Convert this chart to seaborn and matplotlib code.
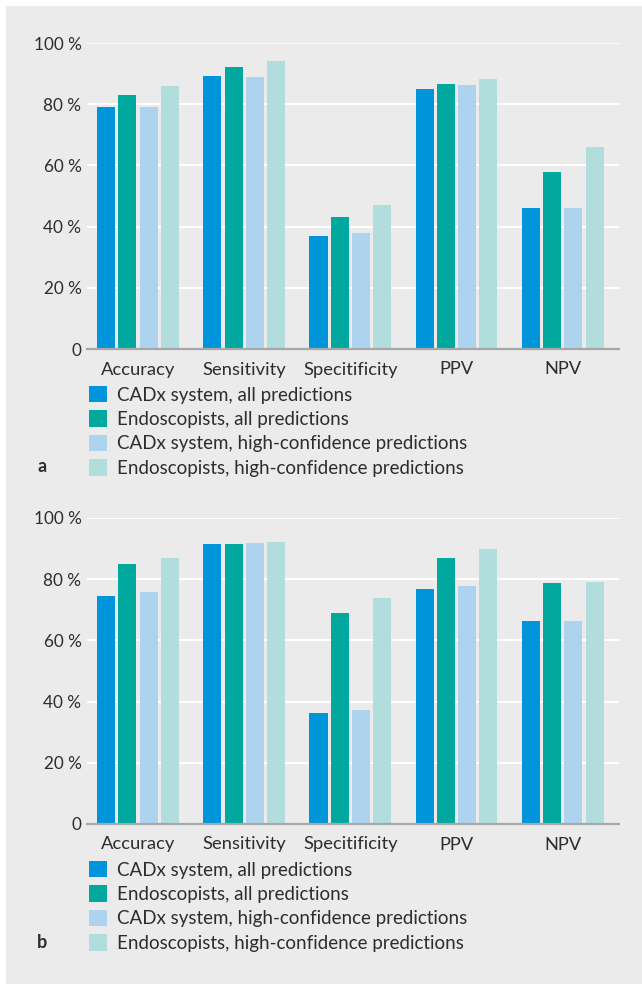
import matplotlib
matplotlib.use("Agg")
import matplotlib.pyplot as plt
import matplotlib.patches as mpatches
import seaborn as sns
import pandas as pd

# data
metrics = ["Accuracy", "Sensitivity", "Specitificity", "PPV", "NPV"]
series = [
    "CADx system, all predictions",
    "Endoscopists, all predictions",
    "CADx system, high-confidence predictions",
    "Endoscopists, high-confidence predictions",
]
colors = ["#0094da", "#00a89e", "#aed3ee", "#b1dedd"]

# panel a
a_cadx_all = [79.2, 89.3, 37.0, 85.0, 46.1]
a_endo_all = [83.1, 92.3, 43.2, 86.7, 57.9]
a_cadx_hc = [79.2, 89.0, 38.0, 86.4, 46.1]
a_endo_hc = [86.0, 94.2, 47.0, 88.3, 66.1]

# panel b
b_cadx_all = [74.4, 91.5, 36.4, 76.7, 66.5]
b_endo_all = [84.9, 91.5, 68.9, 86.9, 78.7]
b_cadx_hc = [75.7, 91.8, 37.1, 77.7, 66.5]
b_endo_hc = [86.9, 92.1, 73.8, 89.8, 79.0]

yticks = [0, 20, 40, 60, 80, 100]
ytick_labels = ["0", "20 %", "40 %", "60 %", "80 %", "100 %"]

BG = "#eaebea"
TXT = "#2d2d2d"


def to_long(vals):
    rows = []
    for s, v in zip(series, vals):
        for m, x in zip(metrics, v):
            rows.append({"metric": m, "series": s, "value": x})
    return pd.DataFrame(rows)


sns.set_theme(style="white")
plt.rcParams["font.family"] = ["Lato", "DejaVu Sans"]

fig = plt.figure(figsize=(6.42, 9.84), dpi=100)
fig.patch.set_facecolor("white")
fig.patches.append(mpatches.Rectangle((6 / 642, 0), 1, 1 - 6 / 984,
                                      transform=fig.transFigure,
                                      facecolor=BG, edgecolor="none", zorder=-10))

panels = [
    ("a", [a_cadx_all, a_endo_all, a_cadx_hc, a_endo_hc], 349),
    ("b", [b_cadx_all, b_endo_all, b_cadx_hc, b_endo_hc], 824),
]

for letter, vals, y0 in panels:
    df = to_long(vals)
    ax = fig.add_axes([87 / 642, (984 - y0) / 984, 532 / 642, 306 / 984])
    ax.set_facecolor("none")
    sns.barplot(data=df, x="metric", y="value", hue="series", order=metrics,
                hue_order=series, palette=colors, width=0.8, gap=0.15,
                linewidth=0, saturation=1, ax=ax, legend=False)
    ax.set_xlim(-0.48, 4.53)
    ax.set_ylim(0, 100)
    ax.set_yticks(yticks)
    ax.set_yticklabels(ytick_labels)
    ax.set_axisbelow(True)
    ax.yaxis.grid(True, color="white", linewidth=1.5)
    ax.xaxis.grid(False)
    for s in ["top", "right", "left"]:
        ax.spines[s].set_visible(False)
    ax.spines["bottom"].set_color("#a6a7a8")
    ax.spines["bottom"].set_linewidth(1.6)
    ax.spines["bottom"].set_zorder(5)
    ax.tick_params(axis="both", length=0, labelcolor=TXT)
    ax.tick_params(axis="y", pad=4, labelsize=12.3)
    ax.tick_params(axis="x", pad=9, labelsize=13.2)
    ax.set_xlabel("")
    ax.set_ylabel("")

    handles = [mpatches.Patch(facecolor=c, edgecolor="none") for c in colors]
    ax.legend(handles, series, loc="upper left",
              bbox_to_anchor=(89 / 642, 1 - (y0 + 37) / 984),
              bbox_transform=fig.transFigure, frameon=False, fontsize=13.5,
              handlelength=0.97, handleheight=0.97, handletextpad=0.55,
              labelspacing=0.36, borderpad=0, borderaxespad=0,
              labelcolor=TXT)

    fig.text(42 / 642, 1 - (y0 + 118) / 984, letter, fontsize=13,
             fontweight="bold", color=TXT, ha="center", va="center")

fig.savefig("out.png", dpi=100)
